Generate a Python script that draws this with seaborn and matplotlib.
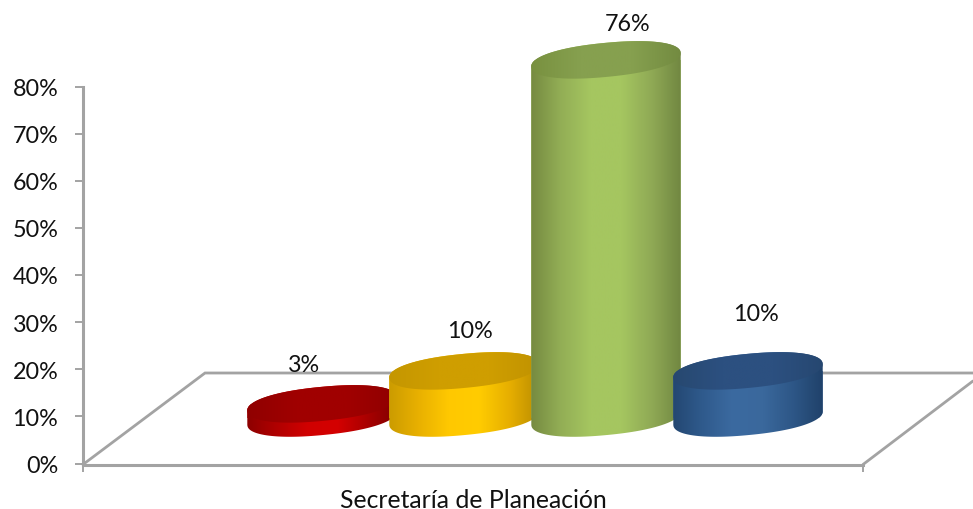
import numpy as np
import pandas as pd
import matplotlib
matplotlib.use("Agg")
import matplotlib.pyplot as plt
from matplotlib.colors import LinearSegmentedColormap
from matplotlib.path import Path
from matplotlib.transforms import IdentityTransform
import seaborn as sns

# ---- data ----
category = "Secretaría de Planeación"
series = ["Rojo", "Amarillo", "Verde", "Azul"]
values = [3, 10, 76, 10]
y_ticks = [0, 10, 20, 30, 40, 50, 60, 70, 80]

# ---- style ----
W, H = 973, 510
base_colors = ["#C00000", "#FFC000", "#9BBB59", "#376092"]
side_ramps = [
    ["#8a0000", "#b00000", "#d00000", "#d40000", "#a80000", "#7e0000"],
    ["#c99a00", "#e8b000", "#ffc800", "#ffcc00", "#e6ae00", "#b88c00"],
    ["#74883f", "#92ad55", "#a5c660", "#a5c660", "#8fa955", "#6f8540"],
    ["#234670", "#2f5a8c", "#3b6aa0", "#3a689c", "#2d5686", "#1f4068"],
]
top_ramps = [
    ["#8f0000", "#a00000", "#a00000", "#8f0000"],
    ["#c49600", "#cf9e00", "#cf9e00", "#c09200"],
    ["#78903f", "#86a04f", "#86a04f", "#728a40"],
    ["#27486f", "#2c5080", "#2c5080", "#264770"],
]
gray = "#a3a3a3"
font_size = 16.8
TILT = np.radians(5.5)
A, B = 75.0, 17.0          # ellipse half axes in pixels
ROUND = 2.2                # superellipse exponent, rounder ends than an ellipse
FLOOR = 9.65               # floor level of the 3D base, in axis units
label_offsets = [(-18, -39), (6, -40), (22, -36), (8, -57)]  # px from top centre

sns.set_theme(style="white")
plt.rcParams["font.family"] = ["Lato", "DejaVu Sans"]

fig = plt.figure(figsize=(W / 100, H / 100), dpi=100, facecolor="white")
L, R, T, Bt = 83, 863, 87.5, 464.5
ax = fig.add_axes([L / W, 1 - Bt / H, (R - L) / W, (Bt - T) / H])
ax.patch.set_alpha(0)

CX = 535            # pixel centre of the group of cylinders
STEP, BW = 142, 150
df = pd.DataFrame({"cat": [category] * len(series), "serie": series, "v": values})
sns.barplot(data=df, x="cat", y="v", hue="serie", hue_order=series,
            palette=base_colors, width=STEP * 4 / (R - L), gap=1 - BW / STEP,
            bottom=FLOOR, legend=False, saturation=1, linewidth=0, ax=ax)

ax.set_xlim((L - CX) / (R - L), (R - CX) / (R - L))
ax.set_ylim(0, 80)
ax.set_xlabel("")
ax.set_ylabel("")
ax.set_xticks([(473 - CX) / (R - L)], [category])
ax.set_xticks([(L - CX) / (R - L), (R - CX) / (R - L)], minor=True)
ax.set_yticks(y_ticks, [f"{t}%" for t in y_ticks])
for s in ["top", "right"]:
    ax.spines[s].set_visible(False)
ax.spines["left"].set_color(gray)
ax.spines["left"].set_linewidth(2.2)
ax.spines["bottom"].set_color(gray)
ax.spines["bottom"].set_linewidth(2.2)
ax.spines["bottom"].set_position(("outward", 1.0))
ax.tick_params(axis="y", length=5.8, width=1.4, color=gray, pad=12,
               labelsize=font_size, labelcolor="#111111", left=True)
ax.tick_params(axis="x", which="major", length=0, pad=16.5,
               labelsize=17.8, labelcolor="#111111")
ax.tick_params(axis="x", which="minor", length=5, width=1.4, color=gray, bottom=True)

# floor outline of the 3D base
ident = IdentityTransform()
def disp(px, py):
    return np.column_stack([np.asarray(px, float), H - np.asarray(py, float)])
for pts in ([(L, 465.5), (205, 374), (W, 374)], [(R, 465.5), (W, 382)]):
    xy = disp(*zip(*pts))
    ax.plot(xy[:, 0], xy[:, 1], transform=ident, color=gray, lw=2.0,
            clip_on=False, zorder=1, solid_joinstyle="miter")

def ell(cx, cy, t):
    c, s = np.cos(TILT), np.sin(TILT)
    u = A * np.sign(np.cos(t)) * np.abs(np.cos(t)) ** (2 / ROUND)
    v = B * np.sign(np.sin(t)) * np.abs(np.sin(t)) ** (2 / ROUND)
    return (cx + u * c + v * s, cy - u * s + v * c)

# parameter of the rightmost point of the outline
tt = np.linspace(-np.pi / 2, np.pi / 2, 2001)
t0 = tt[np.argmax(ell(0, 0, tt)[0])]
grad = np.linspace(0, 1, 256).reshape(1, -1)
to_disp = ax.transData.transform
to_data = ax.transData.inverted().transform

for i, cont in enumerate(ax.containers):
    bar = cont[0]
    z = 3 + i * 3
    x0, w = bar.get_x(), bar.get_width()
    y0, h = bar.get_y(), bar.get_height()
    xd, ybot = to_disp((x0 + w / 2, y0))
    _, ytop = to_disp((x0 + w / 2, y0 + h))
    cx, cy_bot, cy_top = xd, H - ybot, H - ytop

    low = ell(cx, cy_bot, np.linspace(t0, t0 + np.pi, 180))
    up = ell(cx, cy_top, np.linspace(t0 + np.pi, t0 + 2 * np.pi, 180))
    verts = disp(np.r_[low[0], up[0]], np.r_[low[1], up[1]])
    sil = Path(np.vstack([verts, verts[:1]]), closed=True)
    bar.set_zorder(z)
    bar.set_clip_box(fig.bbox)
    bar.set_clip_path(sil, ident)

    xl, _ = to_data((cx - BW / 2 - 2, 0))
    xr, _ = to_data((cx + BW / 2 + 2, 0))
    _, yb = to_data((0, H - (cy_bot + 25)))
    _, yt = to_data((0, H - (cy_top - 25)))
    im = ax.imshow(grad, extent=(xl, xr, yb, yt), aspect="auto", origin="lower",
                   cmap=LinearSegmentedColormap.from_list(f"s{i}", side_ramps[i]),
                   interpolation="bilinear", zorder=z + 0.1)
    im.set_clip_box(fig.bbox)
    im.set_clip_path(sil, ident)

    tv = disp(*ell(cx, cy_top, np.linspace(0, 2 * np.pi, 360)))
    top_path = Path(np.vstack([tv, tv[:1]]), closed=True)
    im2 = ax.imshow(grad, extent=(xl, xr, yb, yt), aspect="auto", origin="lower",
                    cmap=LinearSegmentedColormap.from_list(f"t{i}", top_ramps[i]),
                    interpolation="bilinear", zorder=z + 0.2)
    im2.set_clip_box(fig.bbox)
    im2.set_clip_path(top_path, ident)

    dx, dy = label_offsets[i]
    ax.annotate(f"{values[i]}%", xy=(x0 + w / 2, y0 + h), xycoords="data",
                xytext=(dx * 0.72, -dy * 0.72), textcoords="offset points",
                ha="center", va="center", fontsize=font_size, color="#111111",
                zorder=30, annotation_clip=False)

ax.set_xlim((L - CX) / (R - L), (R - CX) / (R - L))
ax.set_ylim(0, 80)
fig.savefig("out.png", dpi=100, facecolor="white")
